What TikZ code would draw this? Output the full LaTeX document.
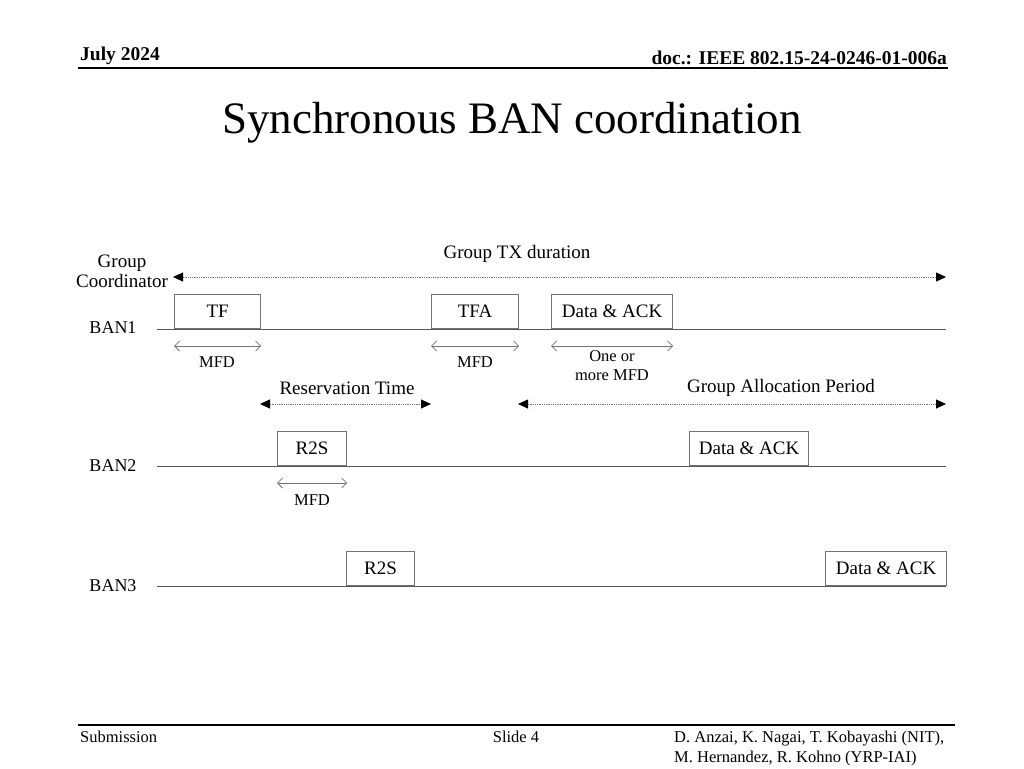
\documentclass[tikz,border=0pt]{standalone}
\usepackage{fontspec}
\setmainfont{Liberation Serif}
\usetikzlibrary{arrows.meta}
\begin{document}
\begin{tikzpicture}[x=1pt,y=-1pt,
  lbl/.style={font=\fontsize{19}{21}\selectfont, inner sep=0pt},
  ban/.style={font=\fontsize{18}{20}\selectfont, inner sep=0pt},
  small/.style={font=\fontsize{16.5}{20}\selectfont, inner sep=0pt, align=center},
  slot/.style={draw=black!55, line width=1.2pt, fill=white, inner sep=0pt, font=\fontsize{19}{21}\selectfont},
  tline/.style={draw=black!65, line width=1pt},
  span/.style={draw=black!55, densely dotted, line width=0.8pt, {Triangle[length=10pt,width=9pt,color=black]}-{Triangle[length=10pt,width=9pt,color=black]}},
  mfd/.style={draw=black!55, line width=0.8pt, {Straight Barb[length=5pt,width=10pt]}-{Straight Barb[length=5pt,width=10pt]}},
  hdr/.style={font=\fontsize{19.5}{22}\selectfont\bfseries, inner sep=0pt},
  ftr/.style={font=\fontsize{16.5}{19}\selectfont, inner sep=0pt}
]
\useasboundingbox (0,0) rectangle (1024,768);
\fill[white] (0,0) rectangle (1024,768);

% header
\node[hdr, anchor=base west] (date) at (80,60) {July 2024};
\node[hdr, anchor=base east] (doc) at (947,64) {doc.: IEEE 802.15-24-0246-01-006a};
\coordinate (h1) at (78,68); \coordinate (h2) at (948,68);
\draw[line width=1.6pt] (h1) -- (h2);
\node[font=\fontsize{45}{50}\selectfont, inner sep=0pt, anchor=base] (title) at (512,133) {Synchronous BAN coordination};

% footer
\coordinate (f1) at (78,725); \coordinate (f2) at (955,725);
\draw[line width=1.3pt] (f1) -- (f2);
\node[ftr, anchor=base west] (sub) at (80,742) {Submission};
\node[ftr, anchor=base] (slide) at (516,742) {Slide 4};
\node[ftr, anchor=base west] (auth1) at (674,742) {D. Anzai, K. Nagai, T. Kobayashi (NIT),};
\node[ftr, anchor=base west] (auth2) at (674,762) {M. Hernandez, R. Kohno (YRP-IAI)};

% labels
\node[lbl, align=center] (gc) at (122,271) {Group\\[-1pt]Coordinator};
\node[ban] (b1) at (113,328) {BAN1};
\node[ban] (b2) at (113,466) {BAN2};
\node[ban] (b3) at (113,586) {BAN3};

% group tx duration
\coordinate (g1) at (173,277); \coordinate (g2) at (946,277);
\draw[span] (g1) -- (g2);
\node[lbl] (gtx) at (517,254) {Group TX duration};

% time lines
\coordinate (l1a) at (157,329); \coordinate (l1b) at (946,329);
\coordinate (l2a) at (157,466); \coordinate (l2b) at (946,466);
\coordinate (l3a) at (157,586); \coordinate (l3b) at (946,586);
\draw[tline] (l1a) -- (l1b);
\draw[tline] (l2a) -- (l2b);
\draw[tline] (l3a) -- (l3b);

% BAN1 slots
\node[slot, minimum width=86pt, minimum height=34pt, anchor=south west] (tf) at (174,329) {TF};
\node[slot, minimum width=87pt, minimum height=34pt, anchor=south west] (tfa) at (431,329) {TFA};
\node[slot, minimum width=121pt, minimum height=34pt, anchor=south west] (da1) at (551,329) {Data \& ACK};
% BAN2 slots
\node[slot, minimum width=69pt, minimum height=34pt, anchor=south west] (r2s2) at (277,466) {R2S};
\node[slot, minimum width=119pt, minimum height=34pt, anchor=south west] (da2) at (689,466) {Data \& ACK};
% BAN3 slots
\node[slot, minimum width=68pt, minimum height=34pt, anchor=south west] (r2s3) at (346,586) {R2S};
\node[slot, minimum width=121pt, minimum height=34pt, anchor=south west] (da3) at (825,586) {Data \& ACK};

% MFD arrows
\draw[mfd] ([yshift=-17pt]tf.south west) -- ([yshift=-17pt]tf.south east);
\node[small] (m1) at (217,362) {MFD};
\draw[mfd] ([yshift=-17pt]tfa.south west) -- ([yshift=-17pt]tfa.south east);
\node[small] (m2) at (475,362) {MFD};
\draw[mfd] ([yshift=-17pt]da1.south west) -- ([yshift=-17pt]da1.south east);
\node[small, align=center] (m3) at (612,366) {One or\\[-1pt]more MFD};
\draw[mfd] ([yshift=-17pt]r2s2.south west) -- ([yshift=-17pt]r2s2.south east);
\node[small] (m4) at (312,500) {MFD};

% reservation time & group allocation period
\coordinate (rt1) at (260,404); \coordinate (rt2) at (431,404);
\draw[span] (rt1) -- (rt2);
\node[lbl] (rt) at (347,388) {Reservation Time};
\coordinate (ga1) at (518,404); \coordinate (ga2) at (946,404);
\draw[span] (ga1) -- (ga2);
\node[lbl] (gap) at (781,388) {Group Allocation Period};
\end{tikzpicture}
\end{document}
